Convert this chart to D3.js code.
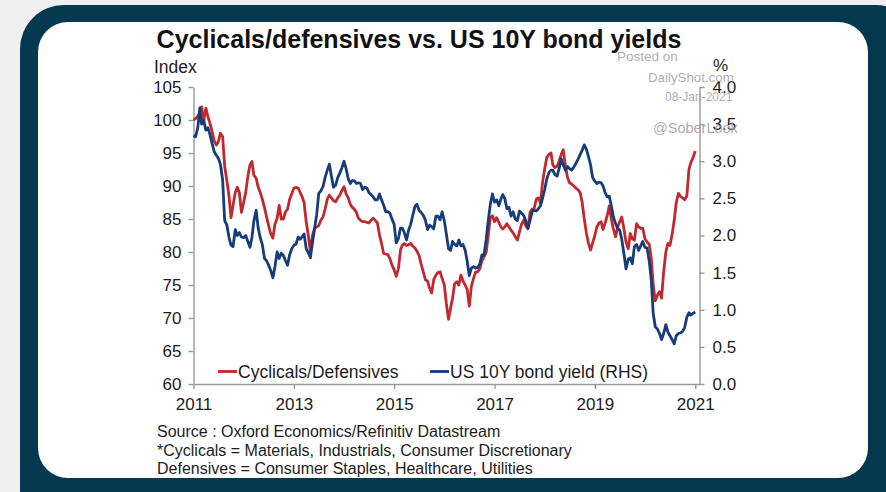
<!DOCTYPE html>
<html><head><meta charset="utf-8">
<script src="https://cdn.jsdelivr.net/npm/d3@7"></script>
<style>
body{margin:0;background:#efefef}
svg{display:block}
text{font-family:"Liberation Sans",Arial,Helvetica,sans-serif}
</style>
</head><body>
<svg id="chart" width="886" height="492"></svg>
<script>
// Semi-monthly observations starting Jan 2011 (1st and 16th of each month)
const startYear = 2011;
const cyclicalsDefensives = [
100,100.2,100.6,101,102,99.8,101.8,100.5,99.5,98.3,
96.8,96.2,96.7,98,97.5,93,90.8,88.6,85.2,87.1,
89,89.8,89,86,87.5,89,91.5,93.2,93.7,91.6,
91.2,89.8,89,88,86.7,85.3,84,82.8,82.1,84.2,
85.1,87.1,85,85,86.1,86.5,88,88.8,89.7,89.8,
89.7,89,88.4,87.5,84.5,82.5,80,82.5,83.6,83.8,
84,84.8,85.3,86.5,88,88.6,88.2,87.8,87.6,88.2,
88.6,89.3,89.9,88.8,88.2,87.2,86.8,86.5,86,85.1,
84.8,84.6,84.6,84.5,84.4,84.8,85.1,84.8,84.4,82.6,
81.3,79.8,79.7,79.6,79,78,77.3,76.3,77.5,80.3,
81,81.3,81,81.1,81.3,80.9,80.6,80.1,79.5,78.2,
77,75.8,75.6,74.5,73.8,75.8,76.5,76.9,77,76,
75,72.2,69.8,71.5,73,75.2,75.5,75,76.5,75.6,
75,74.3,71.8,74.8,76,77,77,77.5,78.7,79.2,
80,82.5,85.2,85.5,84.6,85.2,84.5,83.8,83.5,83.8,
84.3,83.8,83.3,82.9,82.3,81.8,83,84.2,84.8,84,
83.5,86,86.5,86.6,88,88.2,87.4,90.5,92.6,94.3,
94.8,95,93.2,92.8,93,93.8,94.8,95.5,93,91.3,
90.5,90.3,90,89.7,89.4,89,87.5,85,82.8,81.3,
80.3,81.4,82.5,83.8,84.4,84.6,83.4,84.3,85.5,87,
85,83.5,82.3,83.8,84.6,85.3,83.5,81.5,80.5,82.8,
82,81.8,84.3,83.8,83.6,83.6,82,81.5,81.2,79,
75,72.6,73.5,74,73,77,80,81.3,81,82.6,
84.8,87.5,88.9,88.4,88.2,87.9,88.5,92.5,93.6,94.3,95.3
];
const us10yYield = [
3.35,3.33,3.45,3.72,3.5,3.55,3.42,3.45,3.36,3.24,
3.13,3.08,3.04,2.96,2.75,2.2,2.14,1.98,1.87,1.85,
2.08,2.0,2.04,1.98,1.97,2.0,1.92,1.84,1.97,2.2,
2.34,2.1,1.97,1.88,1.69,1.66,1.6,1.53,1.43,1.58,
1.78,1.69,1.76,1.73,1.66,1.6,1.74,1.82,1.87,1.88,
1.98,1.95,1.98,2.02,1.82,1.77,1.7,1.9,2.1,2.28,
2.57,2.6,2.66,2.78,2.88,2.96,2.8,2.65,2.68,2.78,
2.84,2.91,3.0,2.9,2.76,2.7,2.74,2.74,2.7,2.71,
2.7,2.62,2.65,2.64,2.58,2.55,2.52,2.48,2.48,2.56,
2.48,2.41,2.32,2.32,2.3,2.22,2.15,1.9,1.96,2.1,
2.1,2.04,1.94,2.07,2.15,2.27,2.39,2.42,2.34,2.31,
2.27,2.21,2.08,2.14,2.12,2.09,2.26,2.26,2.21,2.32,
2.2,2.02,1.82,1.8,1.92,1.88,1.86,1.94,1.86,1.88,
1.8,1.65,1.46,1.56,1.58,1.56,1.57,1.62,1.74,1.73,
1.95,2.2,2.42,2.56,2.45,2.48,2.4,2.49,2.55,2.5,
2.36,2.38,2.26,2.32,2.22,2.2,2.33,2.3,2.27,2.2,
2.1,2.2,2.32,2.34,2.33,2.36,2.4,2.5,2.62,2.76,
2.85,2.88,2.88,2.82,2.8,2.9,3.03,2.95,2.88,2.93,
2.9,2.88,2.92,2.97,3.03,3.09,3.15,3.22,3.16,3.06,
2.95,2.78,2.73,2.7,2.72,2.71,2.67,2.58,2.52,2.53,
2.4,2.25,2.16,2.1,2.07,1.95,1.75,1.55,1.68,1.7,
1.62,1.85,1.88,1.8,1.86,1.92,1.84,1.83,1.66,1.4,
0.95,0.77,0.74,0.68,0.6,0.68,0.8,0.7,0.65,0.6,
0.54,0.65,0.68,0.69,0.71,0.76,0.9,0.96,0.93,0.95,0.97
];
const xTickYears = [2011,2013,2015,2017,2019,2021];
const leftTicks = [60,65,70,75,80,85,90,95,100,105];
const rightTicks = [0,0.5,1,1.5,2,2.5,3,3.5,4];
const seriesNames = ["Cyclicals/Defensives","US 10Y bond yield (RHS)"];
const titleText = "Cyclicals/defensives vs. US 10Y bond yields";
const sourceLines = [
  "Source : Oxford Economics/Refinitiv Datastream",
  "*Cyclicals = Materials, Industrials, Consumer Discretionary",
  "Defensives = Consumer Staples, Healthcare, Utilities"
];
const watermark = ["Posted on","DailyShot.com","08-Jan-2021","@SoberLook"];

const RED = "#c0292e", BLUE = "#163c7a", AXIS = "#9a9a9a", INK = "#1c1c1c";
const svg = d3.select("#chart");

// frame
svg.append("rect").attr("x",0).attr("y",0).attr("width",886).attr("height",492).attr("fill","#efefef");
svg.append("rect").attr("x",20).attr("y",5).attr("width",900).attr("height",540).attr("rx",44).attr("fill","#04384f");
svg.append("rect").attr("x",38).attr("y",22).attr("width",830).attr("height",456).attr("rx",30).attr("fill","#ffffff");

const dateOf = i => new Date(startYear, Math.floor(i/2), i%2 ? 16 : 1);
const x = d3.scaleTime().domain([new Date(2011,0,1), new Date(2021,1,1)]).range([193.5, 699.5]);
const yL = d3.scaleLinear().domain([60,105]).range([384,87]);
const yR = d3.scaleLinear().domain([0,4]).range([384,87]);

function styleAxis(g){
  g.selectAll("path").attr("stroke",AXIS).attr("stroke-width",1.4);
  g.selectAll("line").attr("stroke",AXIS).attr("stroke-width",1.4);
  g.selectAll("text").attr("fill",INK).style("font-size","17px").style("font-family",'"Liberation Sans",Arial,sans-serif');
}
svg.append("g").attr("transform","translate(193.5,0)")
  .call(d3.axisLeft(yL).tickValues(leftTicks).tickSize(5).tickPadding(7).tickSizeOuter(0).tickFormat(d3.format("d")))
  .call(styleAxis);
svg.append("g").attr("transform","translate(699.5,0)")
  .call(d3.axisRight(yR).tickValues(rightTicks).tickSize(5).tickPadding(8).tickSizeOuter(0).tickFormat(d3.format(".1f")))
  .call(styleAxis);
svg.append("g").attr("transform","translate(0,384)")
  .call(d3.axisBottom(x).tickValues(xTickYears.map(yr=>new Date(yr,0,1))).tickSize(5).tickPadding(9).tickSizeOuter(0).tickFormat(d3.timeFormat("%Y")))
  .call(styleAxis);

// lines
const lineL = d3.line().x((d,i)=>x(dateOf(i))).y(d=>yL(d));
const lineR = d3.line().x((d,i)=>x(dateOf(i))).y(d=>yR(d));
svg.append("path").datum(cyclicalsDefensives).attr("d",lineL)
  .attr("fill","none").attr("stroke",RED).attr("stroke-width",2.8).attr("stroke-linejoin","round");
svg.append("path").datum(us10yYield).attr("d",lineR)
  .attr("fill","none").attr("stroke",BLUE).attr("stroke-width",2.8).attr("stroke-linejoin","round");

// titles / labels
svg.append("text").attr("x",419).attr("y",48).attr("text-anchor","middle")
  .style("font-size","25px").style("font-weight","bold").attr("fill","#111").text(titleText);
svg.append("text").attr("x",154).attr("y",73).style("font-size","17.5px").attr("fill",INK).text("Index");
svg.append("text").attr("x",713).attr("y",71).style("font-size","17px").attr("fill",INK).text("%");

// legend
const leg = [{x:218,c:RED,t:seriesNames[0]},{x:430,c:BLUE,t:seriesNames[1]}];
leg.forEach(l=>{
  svg.append("line").attr("x1",l.x).attr("x2",l.x+19).attr("y1",371.5).attr("y2",371.5)
    .attr("stroke",l.c).attr("stroke-width",2.8);
  svg.append("text").attr("x",l.x+20).attr("y",377.5).style("font-size","17.5px").attr("fill",INK).text(l.t);
});

// source
sourceLines.forEach((s,i)=>{
  svg.append("text").attr("x",157).attr("y",437+i*18.5).style("font-size","16px").attr("fill",INK).text(s);
});

// watermark
const wm = [
  {t:watermark[0],x:617,y:61,s:13.5},
  {t:watermark[1],x:648,y:82,s:13.3},
  {t:watermark[2],x:665,y:101,s:12},
  {t:watermark[3],x:653,y:133,s:14.5}
];
wm.forEach(w=>{
  svg.append("text").attr("x",w.x).attr("y",w.y).style("font-size",w.s+"px")
    .attr("fill","#9e9e9e").attr("fill-opacity",0.85).text(w.t);
});
</script>
</body></html>
